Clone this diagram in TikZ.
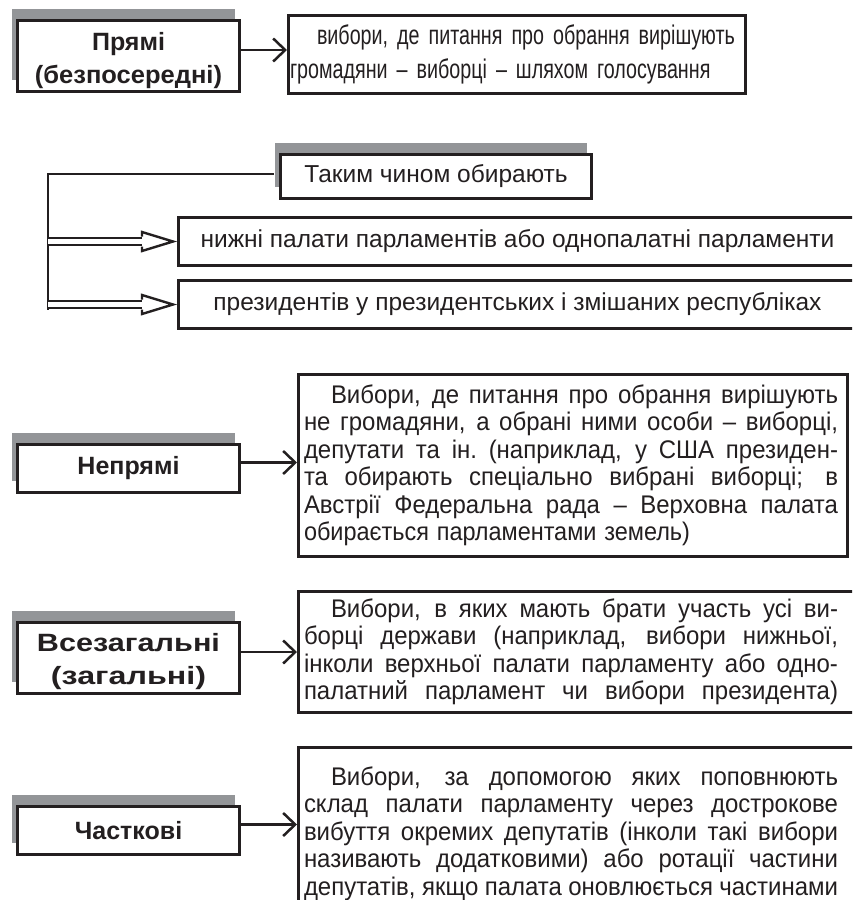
\documentclass[tikz,border=0pt]{standalone}
\usepackage{fontspec}
\setmainfont{Liberation Sans}
\newfontfamily\slimtext[FakeStretch=0.73]{Liberation Sans}
\usetikzlibrary{arrows.meta,shadows,calc}
\definecolor{ink}{HTML}{231F20}
\definecolor{shade}{HTML}{939598}
% justified lines, slightly condensed (0.94): 534pt/0.94 = 568.1pt, 507pt/0.94 = 539.4pt
\newcommand\jbox[2]{\hbox to #1{\spaceskip=0.22em plus 1fil\relax\xspaceskip=\spaceskip #2}}
\newcommand\jline[1]{\scalebox{0.94}[1]{\jbox{568.1pt}{#1}}}
\newcommand\jfirst[1]{\hspace*{27pt}\scalebox{0.94}[1]{\jbox{539.4pt}{#1}}}
\newcommand\nline[1]{\scalebox{0.92}[1]{#1}}
\newcommand\wideto[2]{\resizebox{#1}{\height}{#2}}
\tikzset{
  boxline/.style={draw=ink, line width=2.6pt, fill=white, inner sep=0pt, anchor=north west},
  shad/.style={drop shadow={shadow xshift=-5pt, shadow yshift=11.5pt, fill=shade, opacity=1}},
  lab/.style={boxline, shad, minimum width=222.4pt, text=ink, align=center,
    font=\fontsize{25}{33}\selectfont\bfseries},
  desc/.style={boxline, text=ink, align=left, inner xsep=5.7pt,
    font=\fontsize{25.5}{27.5}\selectfont},
  plain/.style={boxline, text=ink, align=center, font=\fontsize{24.5}{28}\selectfont},
  arr/.style={draw=ink, line width=2.5pt, -{Straight Barb[length=12pt,width=23pt]}},
  conn/.style={draw=ink, line width=2.8pt},
  dbl/.style={draw=ink, line width=2.4pt, double=white, double distance=5pt},
  headline/.style={draw=ink, line width=2.4pt, fill=white},
}
\begin{document}
\begin{tikzpicture}[x=1pt,y=-1pt]
\useasboundingbox (0,0) rectangle (852,900);
\clip (0,0) rectangle (852,900);
\fill[white] (0,0) rectangle (852,900);

% left labels
\node[lab, minimum height=71.4pt] (pryami) at (16,19)
  {\rule{0pt}{28pt}Прямі\\\wideto{187pt}{(безпосередні)}};
\node[lab, minimum height=48.4pt] (nepryami) at (16,443) {Непрямі};
\node[lab, minimum height=71.4pt] (vsezag) at (16,621)
  {\rule{0pt}{26pt}\wideto{183pt}{Всезагальні}\\\wideto{155pt}{(загальні)}};
\node[lab, minimum height=48.4pt] (chastk) at (16,805) {Часткові};

% descriptions
\node[desc, inner xsep=1.7pt, text width=454pt, minimum height=78.4pt,
      font=\slimtext\fontsize{27}{34}\selectfont] (d1) at (287,14)
  {\hspace*{27pt}вибори, де питання про обрання вирішують\\
   громадяни – виборці – шляхом голосування};

\node[plain, shad, minimum width=311.4pt, minimum height=44.4pt] (takym) at (279,153)
  {Таким чином обирають};
\node[plain, minimum width=678.4pt, minimum height=48.4pt] (nyzhni) at (177,216)
  {нижні палати парламентів або однопалатні парламенти};
\node[plain, minimum width=678.4pt, minimum height=48.4pt] (prez) at (177,279)
  {президентів у президентських і змішаних республіках};

\node[desc, text width=538pt, minimum height=182.4pt] (d3) at (297,373)
  {\jfirst{Вибори, де питання про обрання вирішують}\\
   \jline{не громадяни, а обрані ними особи – виборці,}\\
   \jline{депутати та ін. (наприклад, у США президен-}\\
   \jline{та обирають спеціально вибрані виборці; в}\\
   \jline{Австрії Федеральна рада – Верховна палата}\\
   \nline{обирається парламентами земель)}};

\node[desc, text width=548pt, minimum height=121.4pt] (d4) at (297,590)
  {\jfirst{Вибори, в яких мають брати участь усі ви-}\\
   \jline{борці держави (наприклад, вибори нижньої,}\\
   \jline{інколи верхньої палати парламенту або одно-}\\
   \jline{палатний парламент чи вибори президента)}};

\node[desc, text width=548pt, inner ysep=19pt] (d5) at (297,746)
  {\jfirst{Вибори, за допомогою яких поповнюють}\\
   \jline{склад палати парламенту через дострокове}\\
   \jline{вибуття окремих депутатів (інколи такі вибори}\\
   \jline{називають додатковими) або ротації частини}\\
   \jline{депутатів, якщо палата оновлюється частинами}\rule[-60pt]{0pt}{1pt}};

% single arrows
\draw[arr] ([yshift=6pt]pryami.east) -- ([yshift=6pt]pryami.east -| d1.west);
\draw[arr] ([yshift=6pt]nepryami.east) -- ([yshift=6pt]nepryami.east -| d3.west);
\draw[arr] ([yshift=6pt]vsezag.east) -- ([yshift=6pt]vsezag.east -| d4.west);
\draw[arr] ([yshift=6pt]chastk.east) -- ([yshift=6pt]chastk.east -| d5.west);

% bracket and double arrows
\coordinate (vbot) at (48,310);
\draw[conn] ([xshift=-5pt,yshift=2.5pt]takym.west) -| (vbot);
\foreach \t in {nyzhni,prez}{
  \draw[dbl] (vbot |- \t.west) -- ([xshift=-35pt]\t.west);
  \draw[headline] ($(\t.west)+(-35,-5)$) -- ++(0,-4.5) -- ([xshift=-4pt]\t.west)
     -- ($(\t.west)+(-35,9.5)$) -- ++(0,-4.5);
}
\end{tikzpicture}
\end{document}
